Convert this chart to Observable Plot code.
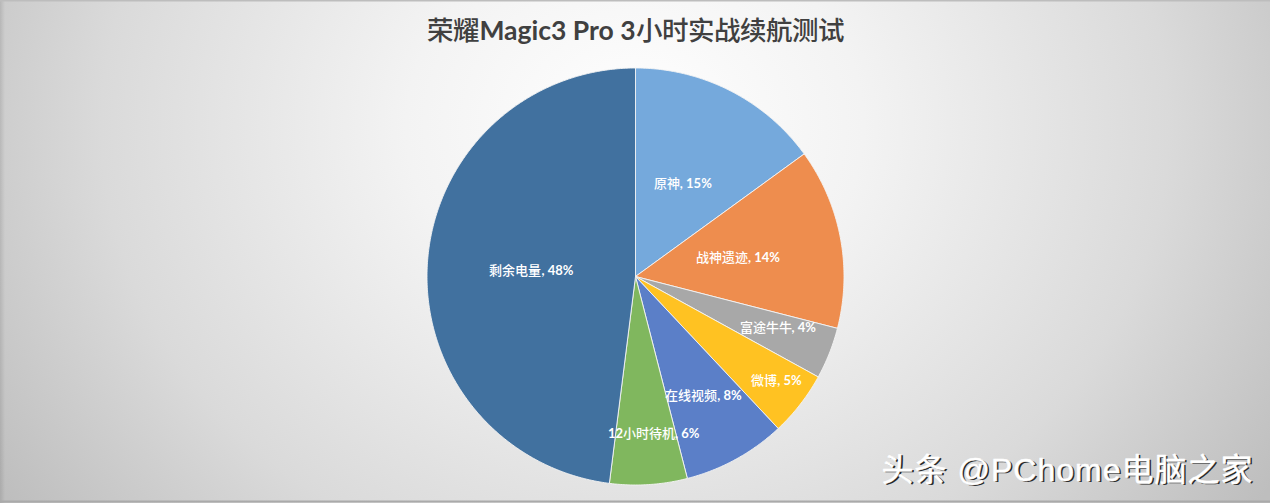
<!DOCTYPE html>
<html lang="zh">
<head>
<meta charset="utf-8">
<script src="https://cdn.jsdelivr.net/npm/d3@7"></script>
<script src="https://cdn.jsdelivr.net/npm/@observablehq/plot@0.6"></script>
<style>
@font-face { font-family: "TitleCJK"; src: local("Noto Sans CJK SC Medium"), local("Noto Sans CJK SC"); font-weight: 700; unicode-range: U+3000-9FFF; }
html, body { margin: 0; padding: 0; background: #fff; overflow: hidden; }
svg { display: block; }
.title text { fill: #404040; }
.wm text, .wmshadow text { letter-spacing: 1px; }
</style>
</head>
<body>
<div id="chart"></div>
<script>
const categories = ["原神", "战神遗迹", "富途牛牛", "微博", "在线视频", "12小时待机", "剩余电量"];
const shares = [15, 14, 4, 5, 8, 6, 48];
const sliceColors = ["#75A9DC", "#EE8D4E", "#A8A8A8", "#FFC222", "#5B7FC8", "#80B75E", "#41719F"];
const chartTitle = "荣耀Magic3 Pro 3小时实战续航测试";
const watermark = "头条 @PChome电脑之家";

// label placement as fraction of the radius, and angular nudge (degrees)
const labelRadius = [0.5, 0.5, 0.725, 0.84, 0.66, 0.76, 0.5];
const labelNudge = [0, 0.3, -1.8, -1.4, -0.8, -3, -0.5];

const W = 1270, H = 503, R = 208.5, CX = 635, CY = 276;
const total = d3.sum(shares);
let acc = 0;
const slices = categories.map((name, i) => {
  const a0 = acc / total * 2 * Math.PI;
  acc += shares[i];
  return {name, share: shares[i], a0, a1: acc / total * 2 * Math.PI, i};
});
const outline = slices.flatMap(s => {
  const pts = [{name: s.name, x: 0, y: 0}];
  const n = Math.ceil((s.a1 - s.a0) / 0.008);
  for (let k = 0; k <= n; ++k) {
    const a = s.a0 + (s.a1 - s.a0) * k / n;
    pts.push({name: s.name, x: Math.sin(a), y: Math.cos(a)});
  }
  pts.push({name: s.name, x: 0, y: 0});
  return pts;
});
const labels = slices.map(s => {
  const a = (s.a0 + s.a1) / 2 + labelNudge[s.i] * Math.PI / 180;
  const r = labelRadius[s.i];
  return {text: `${s.name}, ${s.share}%`, x: r * Math.sin(a), y: r * Math.cos(a)};
});

const wmFont = "'Liberation Sans', 'Noto Sans CJK SC', sans-serif";
const plot = Plot.plot({
  width: W, height: H,
  margin: 0,
  x: {domain: [-CX / R, (W - CX) / R], range: [0, W], axis: null},
  y: {domain: [-(H - CY) / R, CY / R], range: [H, 0], axis: null},
  color: {domain: categories, range: sliceColors},
  style: {background: "linear-gradient(to right, rgba(0,0,0,.10) 0, rgba(0,0,0,0) 5px), radial-gradient(ellipse 60% 130% at 50% 25%, #ffffff 0%, #f3f3f3 30%, #dadada 70%, #bebebe 100%)"},
  marks: [
    Plot.line(outline, {x: "x", y: "y", z: "name", fill: "name", stroke: "#f4f4f4", strokeWidth: 0.9, curve: "linear"}),
    Plot.text(labels, {x: "x", y: "y", text: "text", fill: "#fff", fontSize: 13, fontWeight: 700,
      fontFamily: "TitleCJK, Lato, 'Noto Sans CJK SC', sans-serif"}),
    Plot.text([chartTitle], {frameAnchor: "top", dy: 31, text: d => d, fontSize: 26.5, fontWeight: 700, lineAnchor: "middle",
      className: "title", fontFamily: "TitleCJK, Lato, 'Noto Sans CJK SC', sans-serif"}),
    Plot.text([watermark], {frameAnchor: "bottom-right", dx: -15.2, dy: -31.4, lineAnchor: "middle", text: d => d, fill: "#2a2a2a", fontSize: 32,
      className: "wmshadow", fontFamily: wmFont}),
    Plot.text([watermark], {frameAnchor: "bottom-right", dx: -17, dy: -33, lineAnchor: "middle", text: d => d, fill: "#fff", stroke: "#fff", strokeWidth: 0.5, fontSize: 32,
      className: "wm", fontFamily: wmFont}),
    Plot.frame({anchor: "top", stroke: "#bdbdbd", strokeWidth: 2}),
    Plot.frame({anchor: "bottom", stroke: "#aaaaaa", strokeWidth: 2, insetBottom: 2})
  ]
});
document.getElementById("chart").append(plot);
</script>
</body>
</html>
